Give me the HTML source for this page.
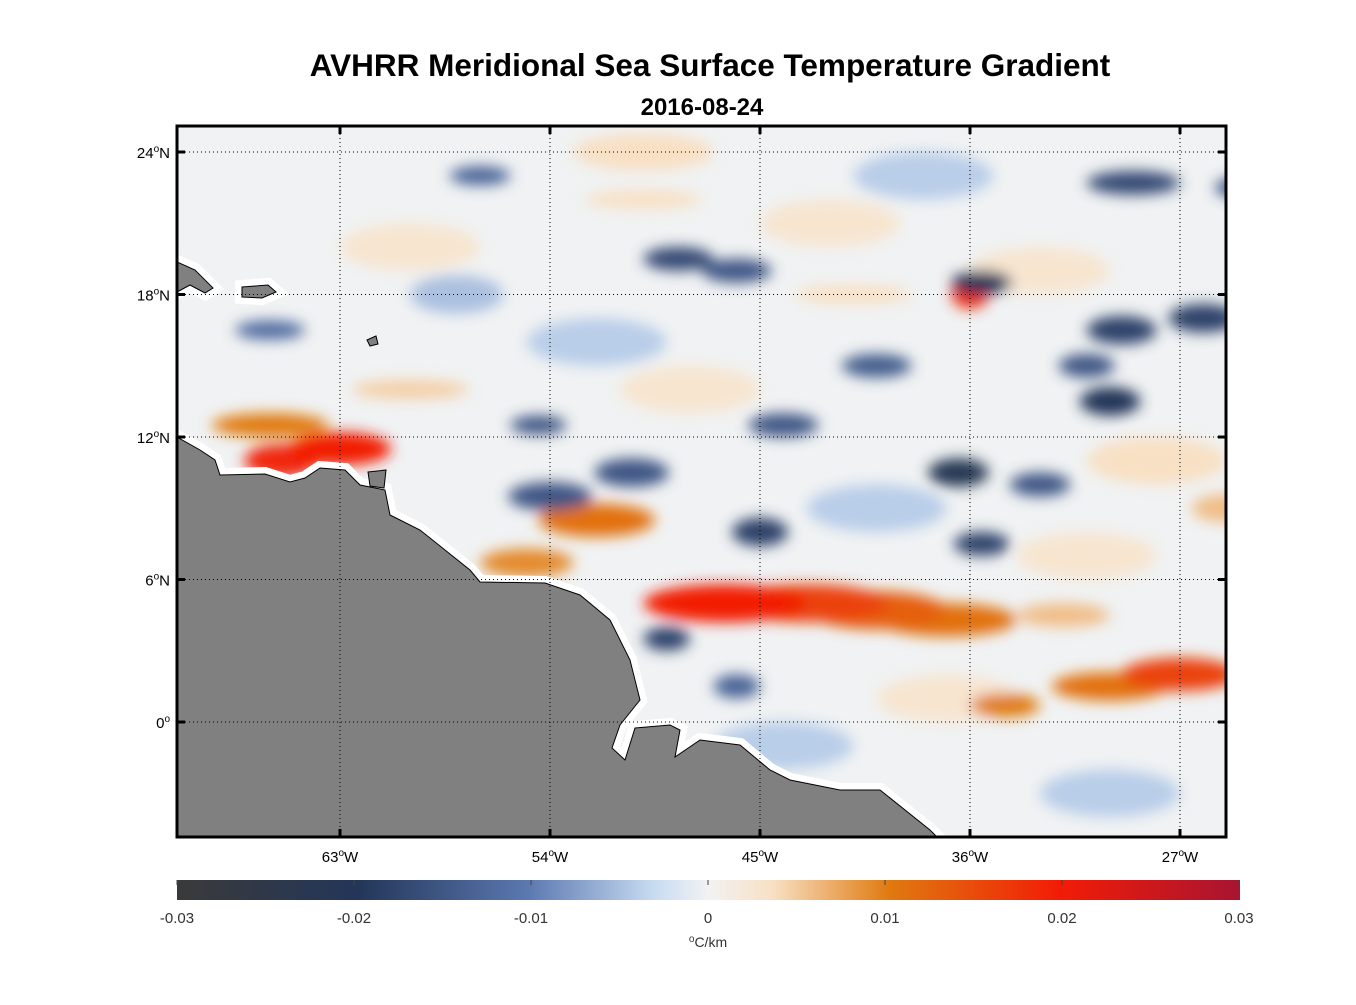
<!DOCTYPE html>
<html><head><meta charset="utf-8"><style>
body{margin:0;background:#fff;font-family:"Liberation Sans",Arial,sans-serif}
svg text{font-family:"Liberation Sans",Arial,sans-serif}
</style></head><body>
<svg id="c" width="1356" height="1000" xmlns="http://www.w3.org/2000/svg">
<defs>
<filter id="blur" x="-50%" y="-50%" width="200%" height="200%"><feGaussianBlur stdDeviation="7"/></filter>
<clipPath id="mapclip"><rect x="177" y="126" width="1049" height="711"/></clipPath>
<linearGradient id="cmap" x1="0" x2="1" y1="0" y2="0">
<stop offset="0" stop-color="#3a3a3a"/><stop offset="0.17" stop-color="#233659"/>
<stop offset="0.33" stop-color="#5b78b0"/><stop offset="0.45" stop-color="#c9dcf2"/>
<stop offset="0.5" stop-color="#f2f2f2"/><stop offset="0.56" stop-color="#f8e0c4"/>
<stop offset="0.67" stop-color="#e07a10"/><stop offset="0.83" stop-color="#f21c06"/>
<stop offset="1" stop-color="#a81431"/></linearGradient>
</defs>
<text x="710" y="76" text-anchor="middle" font-size="31.5" font-weight="bold">AVHRR Meridional Sea Surface Temperature Gradient</text>
<text x="702" y="115" text-anchor="middle" font-size="24" font-weight="bold">2016-08-24</text>
<g clip-path="url(#mapclip)">
<rect x="177" y="126" width="1049" height="711" fill="#f0f2f3"/>
<g id="blobs" filter="url(#blur)"></g>
<g fill="#fff" stroke="#fff" stroke-width="14" stroke-linejoin="miter">
<path d="M177,437 L200,450 L215,460 L220,475 L265,474 L290,482 L305,478 L320,468 L345,470 L360,485 L385,490 L390,515 L420,530 L445,550 L470,570 L480,582 L545,583 L580,595 L610,620 L630,660 L640,700 L620,725 L612,748 L625,760 L635,728 L670,725 L680,730 L675,757 L700,740 L740,745 L770,770 L790,780 L840,790 L880,790 L930,830 L940,840 L177,840 Z"/>
<path d="M242,287 L268,285 L276,292 L262,298 L242,297 Z"/>
<path d="M177,262 L195,270 L213,288 L205,293 L190,285 L177,292 Z"/>
</g>
<path fill="#808080" stroke="#000" stroke-width="1" d="M177,437 L200,450 L215,460 L220,475 L265,474 L290,482 L305,478 L320,468 L345,470 L360,485 L385,490 L390,515 L420,530 L445,550 L470,570 L480,582 L545,583 L580,595 L610,620 L630,660 L640,700 L620,725 L612,748 L625,760 L635,728 L670,725 L680,730 L675,757 L700,740 L740,745 L770,770 L790,780 L840,790 L880,790 L930,830 L940,840 L177,840 Z"/>
<path fill="#808080" stroke="#000" d="M242,287 L268,285 L276,292 L262,298 L242,297 Z"/>
<path fill="#808080" stroke="#000" d="M177,262 L195,270 L213,288 L205,293 L190,285 L177,292 Z"/>
<path fill="#808080" stroke="#000" d="M367,340 L376,336 L378,344 L370,346 Z"/>
<path fill="#808080" stroke="#000" d="M368,472 L386,470 L384,488 L370,486 Z"/>
<g id="grid"></g>
</g>
<rect x="177" y="126" width="1049" height="711" fill="none" stroke="#000" stroke-width="3"/>
<g id="axes"></g>
<rect x="177" y="880" width="1063" height="20" fill="url(#cmap)"/>
<g id="cbticks"></g>
<text x="708" y="947" text-anchor="middle" font-size="14" fill="#333"><tspan font-size="10" dy="-5">o</tspan><tspan dy="5">C/km</tspan></text>
</svg>
<script>
const lonTicks=[-63,-54,-45,-36,-27];
const latTicks=[24,18,12,6,0];
const cbTicks=[-0.03,-0.02,-0.01,0,0.01,0.02,0.03];
const blobLon=[-46.5,-43,-40,-37,-63,-65.5,-66,-52,-55,-27,-30,-34.5,-32,-54,-50.5,-45,-36.5,-35.5,-44,-54.5,-48.5,-46,-35.5,-29.5,-26,-30,-31,-40,-24,-29,-57,-49,-46,-66,-33,-36,-60,-41,-50,-25,-60,-52,-42,-38,-33,-28,-56,-48,-40,-31,-62,-44,-37,-30,-58,-50];
const blobLat=[5,5,4.7,4.3,11.5,11,12.5,8.5,6.7,2,1.5,0.7,4.5,9.5,10.5,8,10.5,7.5,12.5,12.5,19.5,19,18.5,16.5,17,13.5,15,15,22.5,22.7,23,3.5,1.5,16.5,10,18,14,18,22,9,20,16,21,23,19,11,3,14,9,7,-2,-1,1,-3,18,24];
const blobVal=[0.02,0.016,0.013,0.011,0.02,0.019,0.01,0.011,0.009,0.016,0.011,0.01,0.006,-0.015,-0.015,-0.018,-0.022,-0.018,-0.015,-0.015,-0.017,-0.015,-0.02,-0.018,-0.018,-0.02,-0.015,-0.014,-0.015,-0.017,-0.013,-0.018,-0.013,-0.012,-0.015,0.018,0.005,0.004,0.004,0.006,0.003,-0.004,0.003,-0.004,0.003,0.004,-0.004,0.003,-0.004,0.003,0.003,-0.004,0.003,-0.004,-0.005,0.004];
const blobW=[3.5,3.5,3,3,2.2,1.6,2.5,2.5,2,2.5,2.5,1.5,2,1.8,1.6,1.2,1.3,1.2,1.5,1.2,1.5,1.5,1.3,1.5,1.5,1.3,1.2,1.5,1.5,2,1.3,1,1,1.5,1.3,0.8,2.5,2.5,2.5,1.5,3,3,3,3,3,3,2.5,3,3,3,3,3,3,3,2,3];
const blobH=[0.8,0.8,0.8,0.7,0.7,0.7,0.5,0.7,0.6,0.7,0.6,0.5,0.5,0.6,0.6,0.6,0.6,0.5,0.5,0.4,0.5,0.5,0.5,0.6,0.6,0.6,0.5,0.5,0.5,0.5,0.4,0.5,0.5,0.4,0.5,0.6,0.4,0.4,0.4,0.6,1,1,1,1,1,1,1,1,1,1,1,1,1,1,0.8,0.8];
const X=lon=>340+(lon+63)*(210/9);
const Y=lat=>722-lat*(570/24);
const CB=v=>708+v*(531/0.03);
const NS="http://www.w3.org/2000/svg";
function mk(t,a,p){const e=document.createElementNS(NS,t);for(const k in a)e.setAttribute(k,a[k]);document.getElementById(p).appendChild(e);return e;}
const stops=[[-0.03,[58,58,58]],[-0.02,[35,54,89]],[-0.01,[91,120,176]],[-0.003,[201,220,242]],[0,[242,242,242]],[0.004,[248,224,196]],[0.01,[224,122,16]],[0.02,[242,28,6]],[0.03,[168,20,49]]];
function col(v){for(let i=0;i<stops.length-1;i++){const[a,ca]=stops[i],[b,cb]=stops[i+1];if(v<=b){const t=Math.max(0,(v-a)/(b-a));return`rgb(${ca.map((c,j)=>Math.round(c+(cb[j]-c)*t)).join(',')})`;}}return'rgb(168,20,49)';}
const order=blobLon.map((_,i)=>i).sort((a,b)=>Math.abs(blobVal[a])-Math.abs(blobVal[b]));
order.forEach(i=>{
const e=mk('ellipse',{cx:X(blobLon[i]),cy:Y(blobLat[i]),rx:blobW[i]*23.3,ry:blobH[i]*23.7,fill:col(blobVal[i])},'blobs');

});
lonTicks.forEach(l=>{const x=X(l);
const g=mk('line',{x1:x,x2:x,y1:126,y2:837,stroke:'#000','stroke-width':1,'stroke-dasharray':'1,3'},'grid');

mk('line',{x1:x,x2:x,y1:126,y2:134,stroke:'#000','stroke-width':3},'axes');
mk('line',{x1:x,x2:x,y1:829,y2:837,stroke:'#000','stroke-width':3},'axes');
const t=mk('text',{x:x,y:862,'text-anchor':'middle','font-size':15},'axes');

t.innerHTML=Math.abs(l)+'<tspan font-size="10" dy="-6">o</tspan><tspan dy="6">W</tspan>';});
latTicks.forEach(l=>{const y=Y(l);
const g=mk('line',{x1:177,x2:1226,y1:y,y2:y,stroke:'#000','stroke-width':1,'stroke-dasharray':'1,3'},'grid');

mk('line',{x1:177,x2:185,y1:y,y2:y,stroke:'#000','stroke-width':3},'axes');
mk('line',{x1:1218,x2:1226,y1:y,y2:y,stroke:'#000','stroke-width':3},'axes');
const t=mk('text',{x:170,y:y+6,'text-anchor':'end','font-size':15},'axes');

t.innerHTML=l+'<tspan font-size="10" dy="-6">o</tspan>'+(l?'<tspan dy="6">N</tspan>':'');});
cbTicks.forEach(v=>{const x=CB(v);
mk('line',{x1:x,x2:x,y1:880,y2:885,stroke:'#444'},'cbticks');
const t=mk('text',{x:x,y:923,'text-anchor':'middle','font-size':15,fill:'#333'},'cbticks');

t.textContent=v===0?'0':String(v);});
</script>
</body></html>
